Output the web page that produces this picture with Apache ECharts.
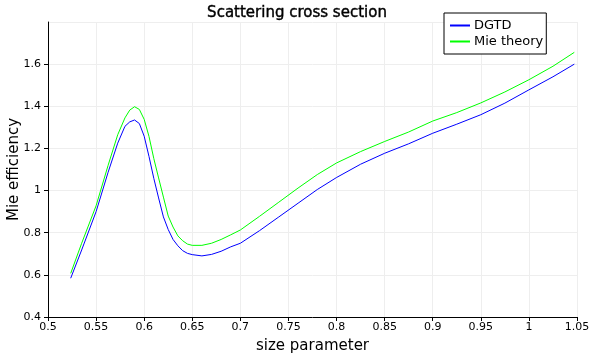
<!DOCTYPE html>
<html>
<head>
<meta charset="utf-8">
<script src="https://cdn.jsdelivr.net/npm/echarts@6/dist/echarts.min.js"></script>
<style>html,body{margin:0;padding:0;background:#fff;}#c{width:594px;height:356px;}</style>
</head>
<body>
<div id="c"></div>
<script>
const sizeParam = [0.5236,0.535,0.55,0.5625,0.5725,0.58,0.585,0.59,0.595,0.6,0.605,0.61,0.615,0.62,0.625,0.63,0.635,0.64,0.645,0.65,0.66,0.67,0.68,0.69,0.7,0.72,0.74,0.76,0.78,0.8,0.825,0.85,0.875,0.9,0.925,0.95,0.975,1.0,1.025,1.0472];
const dgtd = [0.584,0.718,0.900,1.087,1.225,1.305,1.326,1.335,1.318,1.258,1.162,1.058,0.965,0.875,0.815,0.768,0.738,0.715,0.702,0.696,0.690,0.697,0.712,0.733,0.750,0.810,0.875,0.940,1.005,1.062,1.125,1.177,1.222,1.272,1.315,1.360,1.415,1.478,1.540,1.600];
const mie = [0.607,0.750,0.928,1.120,1.265,1.345,1.382,1.398,1.385,1.338,1.257,1.152,1.060,0.969,0.879,0.827,0.785,0.762,0.746,0.740,0.740,0.750,0.768,0.790,0.813,0.878,0.945,1.012,1.076,1.131,1.185,1.233,1.278,1.330,1.370,1.416,1.468,1.526,1.590,1.656];
const seriesNames = ['DGTD', 'Mie theory'];
const titleText = 'Scattering cross section';
const xName = 'size parameter';
const yName = 'Mie efficiency';

const font = 'DejaVu Sans';
const chart = echarts.init(document.getElementById('c'), null, {renderer: 'canvas'});
const pair = (xs, ys) => xs.map((x, i) => [x, ys[i]]);
chart.setOption({
  animation: false,
  backgroundColor: '#fff',
  textStyle: {fontFamily: font},
  title: {
    text: titleText, left: 'center', top: 1,
    textStyle: {fontFamily: font, fontSize: 15, fontWeight: 'normal', color: '#000',
      textBorderColor: '#000', textBorderWidth: 0.4}
  },
  legend: {
    orient: 'vertical', left: 444, top: 13,
    backgroundColor: '#fff', borderColor: '#000', borderWidth: 1, borderRadius: 0,
    padding: [6, 3, 6, 6], itemGap: 3, itemWidth: 20, itemHeight: 2, icon: 'rect',
    textStyle: {fontFamily: font, fontSize: 13, color: '#000', padding: [0, 0, 0, -1]},
    data: seriesNames
  },
  grid: {left: 48, right: 17, top: 22, bottom: 39, containLabel: false, outerBoundsMode: 'none'},
  xAxis: {
    type: 'value', min: 0.5, max: 1.05, interval: 0.05,
    name: xName, nameLocation: 'middle', nameGap: 22,
    nameTextStyle: {fontFamily: font, fontSize: 15, color: '#000'},
    axisLine: {show: true, onZero: false, lineStyle: {color: '#000', width: 1}},
    axisTick: {show: true, inside: false, length: 4, lineStyle: {color: '#000'}},
    axisLabel: {fontFamily: font, fontSize: 11, color: '#000', margin: 5,
      formatter: v => String(+v.toFixed(2))},
    splitLine: {show: true, lineStyle: {color: '#eeeeee', width: 1}}
  },
  yAxis: {
    type: 'value', min: 0.4, max: 1.8, interval: 0.2,
    name: yName, nameLocation: 'middle', nameGap: 26, nameMoveOverlap: false,
    nameTextStyle: {fontFamily: font, fontSize: 15, color: '#000'},
    axisLine: {show: true, onZero: false, lineStyle: {color: '#000', width: 1}},
    axisTick: {show: true, inside: false, length: 4, lineStyle: {color: '#000'}},
    axisLabel: {fontFamily: font, fontSize: 11, color: '#000', margin: 7, showMaxLabel: false,
      formatter: v => String(+v.toFixed(1))},
    splitLine: {show: true, lineStyle: {color: '#eeeeee', width: 1}}
  },
  series: [
    {name: seriesNames[0], type: 'line', data: pair(sizeParam, dgtd), symbol: 'none', smooth: false,
     lineStyle: {color: '#0000ff', width: 1}, itemStyle: {color: '#0000ff'}},
    {name: seriesNames[1], type: 'line', data: pair(sizeParam, mie), symbol: 'none', smooth: false,
     lineStyle: {color: '#00ff00', width: 1}, itemStyle: {color: '#00ff00'}}
  ]
});
</script>
</body>
</html>
